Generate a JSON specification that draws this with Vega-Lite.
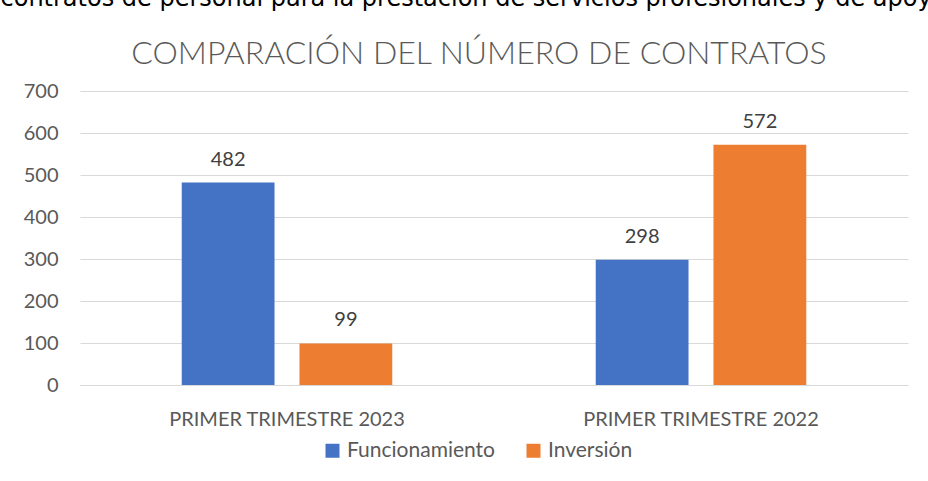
{
  "$schema": "https://vega.github.io/schema/vega-lite/v6.json",
  "autosize": "none",
  "width": 828,
  "height": 294,
  "padding": {"left": 80, "top": 91, "right": 20, "bottom": 96},
  "background": "white",
  "title": {
    "text": "COMPARACIÓN DEL NÚMERO DE CONTRATOS",
    "font": "Lato",
    "fontSize": 32,
    "fontWeight": 300,
    "color": "#595959",
    "anchor": "middle",
    "dx": -15,
    "offset": 0,
    "dy": 85
  },
  "data": {
    "values": [
      {"periodo": "PRIMER TRIMESTRE 2023", "tipo": "Funcionamiento", "contratos": 482},
      {"periodo": "PRIMER TRIMESTRE 2023", "tipo": "Inversión", "contratos": 99},
      {"periodo": "PRIMER TRIMESTRE 2022", "tipo": "Funcionamiento", "contratos": 298},
      {"periodo": "PRIMER TRIMESTRE 2022", "tipo": "Inversión", "contratos": 572}
    ]
  },
  "encoding": {
    "x": {
      "field": "periodo",
      "type": "nominal",
      "sort": ["PRIMER TRIMESTRE 2023", "PRIMER TRIMESTRE 2022"],
      "scale": {"paddingInner": 0, "paddingOuter": 0},
      "axis": {
        "title": null,
        "labelAngle": 0,
        "labelFont": "Lato",
        "labelFontSize": 20,
        "labelColor": "#595959",
        "labelPadding": 24,
        "labelLimit": 0,
        "ticks": false,
        "domainColor": "#d9d9d9",
        "domainWidth": 1
      }
    },
    "xOffset": {
      "field": "tipo",
      "type": "nominal",
      "scale": {"paddingInner": 0.212, "paddingOuter": 0.864}
    },
    "y": {
      "field": "contratos",
      "type": "quantitative",
      "scale": {"domain": [0, 700]},
      "axis": {
        "title": "contratos de personal para la prestación de servicios profesionales y de apoyo",
        "titleAngle": 0,
        "titleAlign": "left",
        "titleBaseline": "alphabetic",
        "titleX": -80,
        "titleY": -86,
        "titleFont": "DejaVu Sans",
        "titleFontSize": 24,
        "titleFontWeight": "normal",
        "titleColor": "#000000",
        "values": [0, 100, 200, 300, 400, 500, 600, 700],
        "labelFont": "Lato",
        "labelFontSize": 20,
        "labelColor": "#595959",
        "labelPadding": 22,
        "ticks": false,
        "domain": false,
        "grid": true,
        "gridColor": "#d9d9d9",
        "gridWidth": 1
      }
    }
  },
  "layer": [
    {
      "mark": {"type": "bar"},
      "encoding": {
        "color": {
          "field": "tipo",
          "type": "nominal",
          "scale": {"domain": ["Funcionamiento", "Inversión"], "range": ["#4472C4", "#ED7D31"]},
          "legend": {
            "title": null,
            "orient": "none",
            "direction": "horizontal",
            "legendX": 242,
            "legendY": 349,
            "symbolType": "square",
            "symbolSize": 196,
            "symbolStrokeWidth": 0,
            "labelFont": "Lato",
            "labelFontSize": 21,
            "labelColor": "#595959",
            "labelOffset": 4,
            "columnPadding": 28
          }
        }
      }
    },
    {
      "mark": {"type": "text", "baseline": "bottom", "dy": -13, "font": "Lato", "fontSize": 20, "color": "#404040"},
      "encoding": {
        "text": {"field": "contratos", "type": "quantitative"}
      }
    }
  ],
  "config": {
    "view": {"stroke": null}
  }
}
